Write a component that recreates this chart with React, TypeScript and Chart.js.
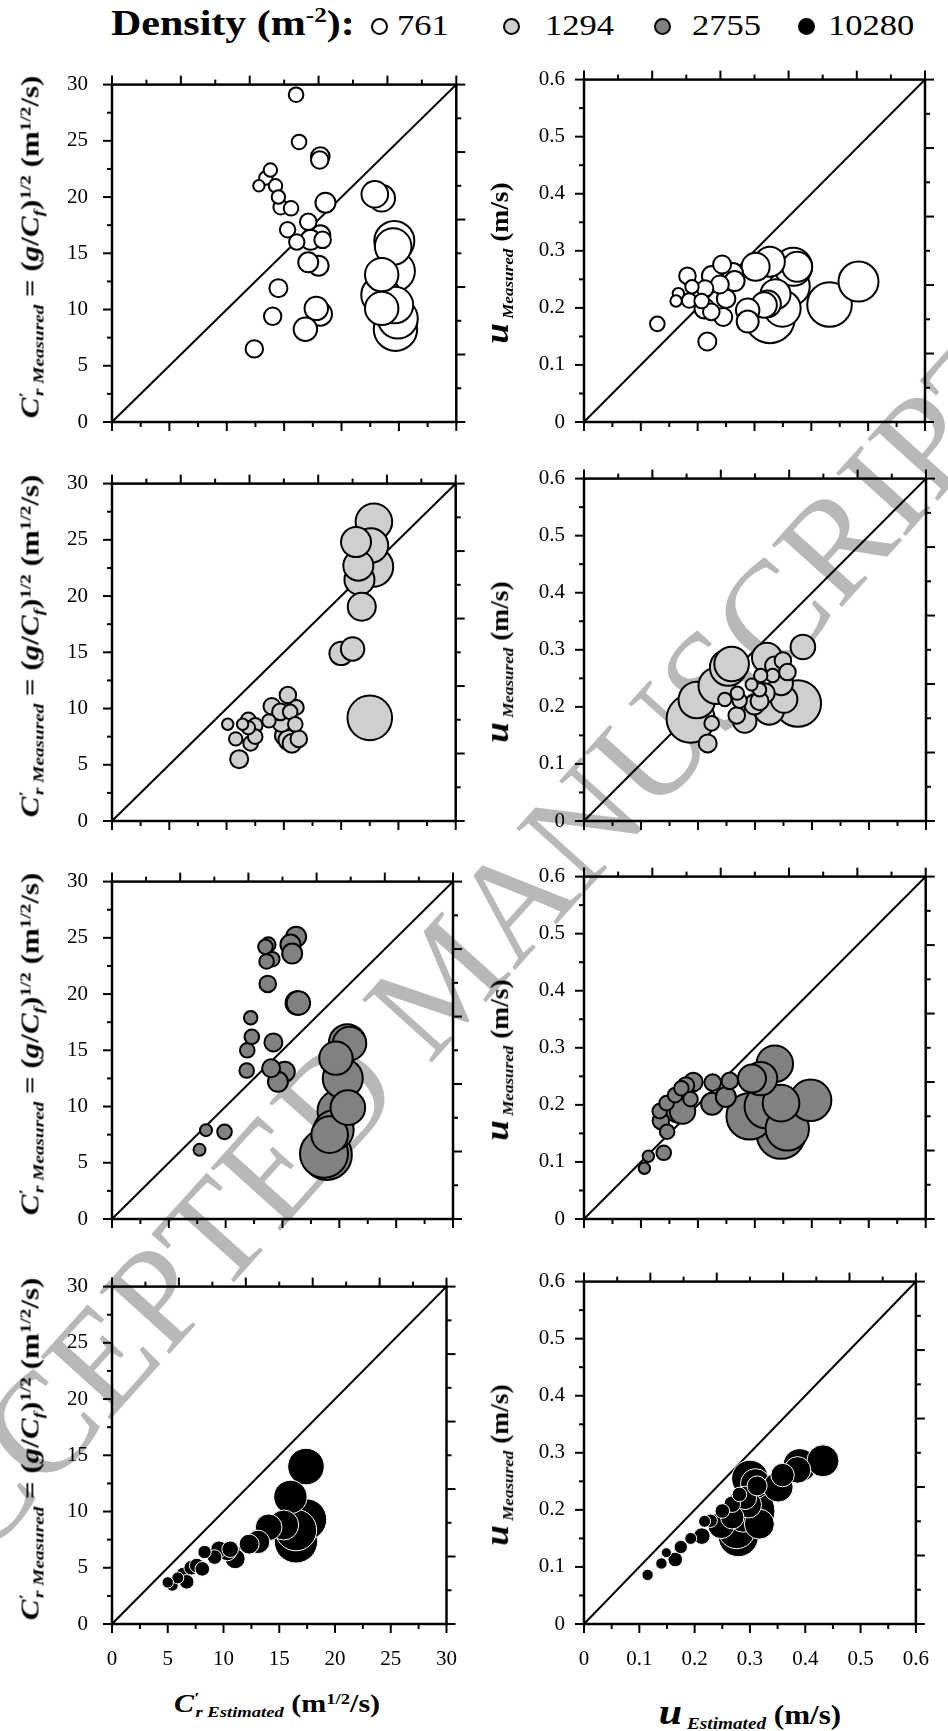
import React, { useEffect, useRef } from "react";
import { Chart, registerables } from "chart.js";

Chart.register(...registerables);

type Bubble = [number, number, number]; // [estimated, measured, radius px]

// ---- categories / styling per density ----
const densityLabels = ["761", "1294", "2755", "10280"];
const fillColors = ["#ffffff", "#cfcfcf", "#818181", "#000000"];
const edgeColors = ["#000000", "#000000", "#000000", "#ffffff"];
const edgeWidths = [2, 2, 2, 1];

// ---- tick labels ----
const crTicks = [0, 5, 10, 15, 20, 25, 30];
const uTicks = [0, 0.1, 0.2, 0.3, 0.4, 0.5, 0.6];

// ---- C'r panels (m^1/2/s) ----
const cr761: Bubble[] = [
  [12.4, 6.5, 8.7], [14.0, 9.4, 8.7], [14.5, 11.9, 9], [13.4, 21.7, 6.7], [12.8, 21.0, 5.7],
  [13.8, 22.4, 6.7], [14.25, 21.0, 6.7], [14.5, 20.0, 6.7], [14.7, 19.1, 7.3], [15.6, 19.0, 7.3],
  [16.04, 29.1, 7.3], [16.3, 24.9, 7.3], [18.1, 23.3, 8.7], [18.15, 23.6, 9.3], [15.3, 17.1, 7.7],
  [16.1, 16.0, 7.7], [17.1, 17.8, 8.3], [18.6, 19.5, 10], [18.35, 16.2, 8.3], [18.15, 16.6, 10],
  [17.3, 16.2, 10], [18.0, 13.9, 10], [17.1, 14.2, 10], [18.15, 9.6, 11.7], [17.8, 10.1, 11.7],
  [16.85, 8.25, 11.7], [23.5, 19.9, 13.3], [22.9, 20.25, 13.3], [24.6, 16.1, 20], [24.5, 15.6, 18.3],
  [23.5, 13.1, 16.7], [24.65, 13.4, 20], [24.65, 10.4, 18.3], [23.5, 10.1, 16.7], [23.4, 11.3, 19.3],
  [24.7, 8.25, 21.7], [24.9, 9.2, 20],
];
const cr1294: Bubble[] = [
  [10.1, 8.6, 5.7], [11.4, 8.6, 5.7], [11.9, 9.0, 7.3], [12.5, 8.5, 7.3], [11.9, 8.3, 6.7],
  [10.8, 7.3, 6.7], [12.1, 6.9, 7.3], [12.5, 7.5, 7.3], [11.1, 5.5, 9], [15.35, 11.2, 8.3],
  [13.95, 10.2, 8.3], [14.7, 9.7, 8.3], [16.1, 10.1, 7.3], [15.55, 9.7, 7.3], [13.7, 8.9, 6.7],
  [14.8, 8.75, 9.3], [16.0, 8.6, 7.3], [15.1, 7.6, 10], [15.4, 7.2, 10], [16.3, 7.3, 8.3],
  [15.7, 6.9, 9.3], [20.0, 14.9, 11.7], [21.0, 15.3, 11.7], [21.8, 19.05, 14], [21.6, 21.45, 15],
  [21.5, 22.7, 15], [21.3, 24.8, 15], [22.86, 26.6, 18.3], [22.6, 24.5, 17.3], [22.8, 22.6, 20],
  [22.5, 9.17, 22.3],
];
const cr2755: Bubble[] = [
  [7.7, 6.15, 6], [8.27, 7.9, 6], [9.9, 7.75, 7.3], [11.85, 13.2, 7.3], [11.9, 15.0, 7.3],
  [12.3, 16.2, 7.3], [12.2, 17.9, 6.7], [14.2, 15.7, 9], [14.0, 13.4, 9], [15.2, 13.1, 10],
  [14.6, 12.2, 10], [13.7, 20.9, 8.3], [13.75, 24.4, 7.3], [13.5, 24.2, 7.3], [14.1, 23.1, 7.3],
  [13.6, 22.9, 7.3], [16.2, 25.1, 10], [15.7, 24.4, 10], [15.85, 23.6, 10], [16.3, 19.2, 11.7],
  [16.4, 19.2, 11.7], [20.7, 15.7, 18.3], [20.9, 15.6, 16.7], [19.7, 14.3, 16.7], [20.3, 12.5, 20],
  [20.75, 9.9, 17.3], [19.9, 9.6, 20.7], [19.5, 7.9, 20], [19.15, 7.5, 18.3], [18.9, 5.7, 25],
  [18.65, 5.8, 24],
];
const cr10280: Bubble[] = [
  [5.0, 3.7, 5.7], [5.4, 3.45, 6], [5.9, 4.1, 6], [6.4, 4.4, 7.3], [6.7, 3.75, 7.3],
  [7.1, 5.0, 7.3], [7.6, 5.2, 7.3], [8.1, 4.9, 7.3], [8.3, 6.4, 6.7], [9.2, 5.95, 7.3],
  [9.6, 6.65, 8.3], [10.35, 6.45, 9.3], [10.6, 6.65, 8.3], [10.8, 6.2, 10], [11.05, 5.8, 10],
  [12.3, 7.1, 10], [13.1, 7.3, 11.7], [14.05, 8.6, 13.3], [15.4, 8.8, 15], [16.0, 11.3, 16.7],
  [17.4, 14.0, 18.3], [17.4, 9.3, 20.7], [16.5, 8.35, 20.7], [16.5, 7.35, 21.7],
];

// ---- u panels (m/s) ----
const u761: Bubble[] = [
  [0.129, 0.172, 7.3], [0.217, 0.141, 9], [0.182, 0.256, 8.3], [0.166, 0.225, 5.7], [0.162, 0.212, 5.7],
  [0.19, 0.237, 6.7], [0.185, 0.213, 7.3], [0.207, 0.212, 7.3], [0.212, 0.199, 10], [0.213, 0.234, 8.3],
  [0.225, 0.256, 10], [0.239, 0.241, 9], [0.243, 0.276, 9], [0.262, 0.261, 10], [0.265, 0.247, 10],
  [0.25, 0.216, 9.3], [0.224, 0.193, 8.3], [0.245, 0.184, 9], [0.288, 0.196, 11.7], [0.288, 0.176, 11],
  [0.327, 0.182, 25], [0.349, 0.199, 18.3], [0.323, 0.207, 13.3], [0.317, 0.205, 12.7], [0.337, 0.224, 15],
  [0.368, 0.272, 19], [0.375, 0.272, 15], [0.302, 0.272, 14], [0.327, 0.281, 15], [0.362, 0.238, 20],
  [0.432, 0.206, 22.3], [0.483, 0.246, 20],
];
const u1294: Bubble[] = [
  [0.217, 0.136, 9], [0.224, 0.171, 7.3], [0.187, 0.179, 24], [0.198, 0.212, 18.3], [0.233, 0.237, 18.3],
  [0.253, 0.269, 18.3], [0.259, 0.275, 17.3], [0.247, 0.213, 6.7], [0.269, 0.224, 6.7], [0.273, 0.211, 7.3],
  [0.268, 0.185, 8.3], [0.282, 0.175, 11.7], [0.299, 0.204, 10], [0.317, 0.224, 10], [0.325, 0.195, 15],
  [0.351, 0.213, 13.3], [0.375, 0.206, 23.3], [0.346, 0.241, 11.7], [0.321, 0.286, 15], [0.334, 0.272, 9.3],
  [0.349, 0.281, 8.3], [0.357, 0.261, 8.3], [0.331, 0.255, 6.7], [0.31, 0.255, 6.7], [0.308, 0.23, 6.7],
  [0.308, 0.21, 9], [0.294, 0.239, 6], [0.384, 0.305, 12.3],
];
const u2755: Bubble[] = [
  [0.106, 0.089, 5.7], [0.113, 0.11, 5.7], [0.14, 0.116, 7.3], [0.146, 0.153, 7.3], [0.135, 0.172, 8.3],
  [0.133, 0.189, 7.3], [0.145, 0.203, 7.3], [0.16, 0.217, 7.3], [0.171, 0.229, 7.3], [0.179, 0.234, 8.3],
  [0.187, 0.21, 7.3], [0.192, 0.24, 9.3], [0.166, 0.192, 13.3], [0.173, 0.189, 12.7], [0.226, 0.239, 8.3],
  [0.256, 0.242, 8.3], [0.249, 0.214, 10], [0.225, 0.202, 11], [0.295, 0.246, 14], [0.31, 0.246, 16.7],
  [0.335, 0.272, 18.3], [0.291, 0.18, 23.3], [0.32, 0.197, 21.7], [0.346, 0.203, 18.3], [0.398, 0.208, 20.7],
  [0.357, 0.158, 21.7], [0.346, 0.148, 24.3],
];
const u10280: Bubble[] = [
  [0.115, 0.086, 5.7], [0.14, 0.106, 5.7], [0.149, 0.125, 5], [0.165, 0.113, 7.3], [0.175, 0.135, 6.7],
  [0.193, 0.15, 6], [0.213, 0.154, 8.3], [0.218, 0.18, 6], [0.229, 0.181, 6.7], [0.25, 0.198, 7.3],
  [0.268, 0.21, 8.3], [0.281, 0.227, 7.3], [0.279, 0.153, 20], [0.276, 0.164, 18.3], [0.288, 0.187, 15],
  [0.3, 0.198, 25], [0.3, 0.255, 18.3], [0.31, 0.246, 15], [0.313, 0.242, 10], [0.351, 0.24, 15],
  [0.359, 0.261, 11.7], [0.39, 0.278, 16.7], [0.386, 0.27, 13.3], [0.432, 0.286, 16], [0.291, 0.221, 11.7],
  [0.297, 0.209, 13.3], [0.268, 0.187, 11.7], [0.248, 0.173, 13.3], [0.317, 0.175, 15],
];

const crPanels = [cr761, cr1294, cr2755, cr10280];
const uPanels = [u761, u1294, u2755, u10280];

// ---- layout ----
const PANEL_W = 346;
const PANEL_H = 354;
const COL_X = [112, 584];
const ROW_Y = [68, 467, 865, 1270];
const ML = 100;
const MT = 20;
const MR = 22;
const MB = 60;
const serif = '"Liberation Serif", "Times New Roman", Times, serif';

const framePlugin = {
  id: "frame",
  afterDatasetsDraw(chart: any, _args: any, opts: any) {
    const { ctx, chartArea: a } = chart;
    const xs = chart.scales.x;
    const ys = chart.scales.y;
    const ticks: number[] = opts.ticks;
    const max = ticks[ticks.length - 1];
    const step = ticks[1] - ticks[0];
    ctx.save();
    ctx.strokeStyle = "#000";
    ctx.lineWidth = 2;
    const seg = (x1: number, y1: number, x2: number, y2: number) => {
      ctx.beginPath();
      ctx.moveTo(x1, y1);
      ctx.lineTo(x2, y2);
      ctx.stroke();
    };
    const nHalf = Math.round((2 * max) / step);
    for (let i = 0; i <= nHalf; i++) {
      const v = (i * step) / 2;
      const len = i % 2 === 0 ? 9 : 5;
      const px = xs.getPixelForValue(v);
      seg(px, a.bottom, px, a.bottom + len);
      const py = ys.getPixelForValue(v);
      seg(a.left, py, a.left - len, py);
    }
    for (let k = 0; k <= 10; k++) {
      const v = (max * k) / 10;
      const len = k % 2 === 0 ? 9 : 5;
      const px = xs.getPixelForValue(v);
      seg(px, a.top, px, a.top - len);
      const py = ys.getPixelForValue(v);
      seg(a.right, py, a.right + len, py);
    }
    ctx.lineWidth = 2.5;
    ctx.strokeRect(a.left, a.top, a.right - a.left, a.bottom - a.top);
    ctx.restore();
  },
};

interface PanelProps {
  left: number;
  top: number;
  points: Bubble[];
  cat: number;
  ticks: number[];
  showX: boolean;
  labelPad: number;
  fmt: (v: number) => string;
}

function Panel(p: PanelProps) {
  const ref = useRef<HTMLCanvasElement>(null);
  useEffect(() => {
    let chart: any = null;
    let dead = false;
    const make = () => {
      if (dead || chart) return;
      const max = p.ticks[p.ticks.length - 1];
      const sorted = [...p.points].sort((a, b) => b[2] - a[2]);
      const font = { family: serif, size: 21, style: "normal" as const, weight: "normal" as const };
      chart = new Chart(ref.current as HTMLCanvasElement, {
        type: "bubble",
        data: {
          datasets: [
            {
              type: "bubble",
              data: sorted.map(([x, y, r]) => ({ x, y, r })),
              backgroundColor: fillColors[p.cat],
              borderColor: edgeColors[p.cat],
              borderWidth: edgeWidths[p.cat],
              clip: false,
            } as any,
            {
              type: "line",
              data: [
                { x: 0, y: 0 },
                { x: max, y: max },
              ],
              borderColor: "#000",
              borderWidth: 2,
              pointRadius: 0,
              fill: false,
            } as any,
          ],
        },
        options: {
          responsive: false,
          animation: false,
          devicePixelRatio: 1,
          events: [],
          font: { family: serif },
          layout: { padding: { top: MT, right: MR, left: 0, bottom: 0 } },
          plugins: {
            legend: { display: false },
            tooltip: { enabled: false },
            frame: { ticks: p.ticks },
          } as any,
          scales: {
            x: {
              type: "linear",
              position: "bottom",
              min: 0,
              max,
              afterBuildTicks: (s: any) => {
                s.ticks = p.ticks.map((v) => ({ value: v }));
              },
              afterFit: (s: any) => {
                s.height = MB;
              },
              grid: { display: false, drawTicks: false },
              border: { display: false },
              ticks: {
                display: p.showX,
                padding: 23,
                color: "#000",
                font,
                maxRotation: 0,
                autoSkip: false,
                callback: (v: any) => p.fmt(Number(v)),
              },
            },
            y: {
              type: "linear",
              position: "left",
              min: 0,
              max,
              afterBuildTicks: (s: any) => {
                s.ticks = p.ticks.map((v) => ({ value: v }));
              },
              afterFit: (s: any) => {
                s.width = ML;
              },
              grid: { display: false, drawTicks: false },
              border: { display: false },
              ticks: {
                padding: p.labelPad,
                color: "#000",
                font,
                autoSkip: false,
                callback: (v: any) => p.fmt(Number(v)),
              },
            },
          },
        } as any,
        plugins: [framePlugin as any],
      });
    };
    const fonts: any = (document as any).fonts;
    if (fonts && fonts.load) {
      Promise.all([fonts.load('21px "Liberation Serif"'), fonts.load('bold 25px "Liberation Serif"')]).then(make, make);
    } else {
      make();
    }
    return () => {
      dead = true;
      if (chart) chart.destroy();
    };
  }, []);
  const w = ML + PANEL_W + MR;
  const h = MT + PANEL_H + MB;
  return (
    <canvas
      ref={ref}
      width={w}
      height={h}
      style={{ position: "absolute", left: p.left - ML, top: p.top - MT, width: w, height: h }}
    />
  );
}

const sub = (s: string, extra: React.CSSProperties = {}) => (
  <span style={{ fontSize: "0.62em", fontStyle: "italic", position: "relative", top: "0.32em", ...extra }}>{s}</span>
);
const sup = (s: string) => (
  <span style={{ fontSize: "0.62em", position: "relative", top: "-0.5em" }}>{s}</span>
);

function CrMeasuredTitle() {
  return (
    <span>
      <i>C</i>
      <span style={{ fontSize: "0.62em", fontStyle: "italic", position: "relative", top: "-0.55em" }}>′</span>
      {sub("r Measured", { marginLeft: "-0.2em" })} = (<i>g</i>/<i>C</i>
      {sub("f")}){sup("1/2")} (m{sup("1/2")}/s)
    </span>
  );
}

function CrEstimatedTitle() {
  return (
    <span>
      <i>C</i>
      <span style={{ fontSize: "0.62em", fontStyle: "italic", position: "relative", top: "-0.55em" }}>′</span>
      {sub("r Estimated", { marginLeft: "-0.2em" })} (m{sup("1/2")}/s)
    </span>
  );
}

function UTitle({ word }: { word: string }) {
  return (
    <span>
      <i style={{ fontSize: "1.35em" }}>u</i>
      {sub(" " + word)} (m/s)
    </span>
  );
}

const titleBase: React.CSSProperties = {
  position: "absolute",
  fontFamily: serif,
  fontWeight: "bold",
  fontSize: 25,
  lineHeight: 1,
  whiteSpace: "nowrap",
  color: "#000",
};

const crFmt = (v: number) => String(v);
const uFmt = (v: number) => (v === 0 ? "0" : v.toFixed(1));

const legendCircleX = [379, 511, 662, 806];
const legendTextX = [397, 545, 692, 828];

export default function App() {
  return (
    <div
      style={{
        position: "absolute",
        left: 0,
        top: 0,
        width: 948,
        height: 1731,
        overflow: "hidden",
        background: "#fff",
        fontFamily: serif,
      }}
    >
      {/* watermark */}
      <div
        style={{
          position: "absolute",
          left: 443,
          top: 979,
          transform: "translate(-50%, -50%) rotate(-48deg)",
          fontFamily: serif,
          fontSize: 143,
          lineHeight: 1,
          color: "#b8b8b8",
          whiteSpace: "nowrap",
        }}
      >
        ACCEPTED MANUSCRIPT
      </div>

      {ROW_Y.map((top, r) => (
        <React.Fragment key={r}>
          <Panel
            left={COL_X[0]}
            top={top}
            points={crPanels[r]}
            cat={r}
            ticks={crTicks}
            showX={r === 3}
            labelPad={24}
            fmt={crFmt}
          />
          <Panel
            left={COL_X[1]}
            top={top}
            points={uPanels[r]}
            cat={r}
            ticks={uTicks}
            showX={r === 3}
            labelPad={19}
            fmt={uFmt}
          />
          <div
            style={{
              ...titleBase,
              left: 30,
              top: top + PANEL_H / 2 + 2,
              transform: "translate(-50%, -50%) rotate(-90deg) scaleX(1.24)",
            }}
          >
            <CrMeasuredTitle />
          </div>
          <div
            style={{
              ...titleBase,
              left: 497,
              top: top + PANEL_H / 2 + 18,
              transform: "translate(-50%, -50%) rotate(-90deg) scaleX(1.1)",
            }}
          >
            <UTitle word="Measured" />
          </div>
        </React.Fragment>
      ))}

      {/* x titles */}
      <div style={{ ...titleBase, left: 277, top: 1703, transform: "translate(-50%, -50%) scaleX(1.2)" }}>
        <CrEstimatedTitle />
      </div>
      <div
        style={{ ...titleBase, fontSize: 27, left: 750, top: 1712, transform: "translate(-50%, -50%) scaleX(1.15)" }}
      >
        <UTitle word="Estimated" />
      </div>

      {/* legend */}
      <div
        style={{
          position: "absolute",
          left: 111,
          top: 6,
          fontFamily: serif,
          fontWeight: "bold",
          fontSize: 35,
          lineHeight: 1,
          whiteSpace: "nowrap",
          transformOrigin: "0 0",
          transform: "scaleX(1.2)",
        }}
      >
        Density (m<span style={{ fontSize: "0.6em", position: "relative", top: "-0.6em" }}>-2</span>):
      </div>
      {densityLabels.map((lab, i) => (
        <React.Fragment key={lab}>
          <div
            style={{
              position: "absolute",
              left: legendCircleX[i] - 8.5,
              top: 26 - 8.5,
              width: 17,
              height: 17,
              boxSizing: "border-box",
              borderRadius: "50%",
              border: "2px solid #000",
              background: fillColors[i],
            }}
          />
          <div
            style={{
              position: "absolute",
              left: legendTextX[i],
              top: 10,
              fontFamily: serif,
              fontSize: 30,
              lineHeight: 1,
              whiteSpace: "nowrap",
              transformOrigin: "0 0",
              transform: "scaleX(1.15)",
            }}
          >
            {lab}
          </div>
        </React.Fragment>
      ))}
    </div>
  );
}
